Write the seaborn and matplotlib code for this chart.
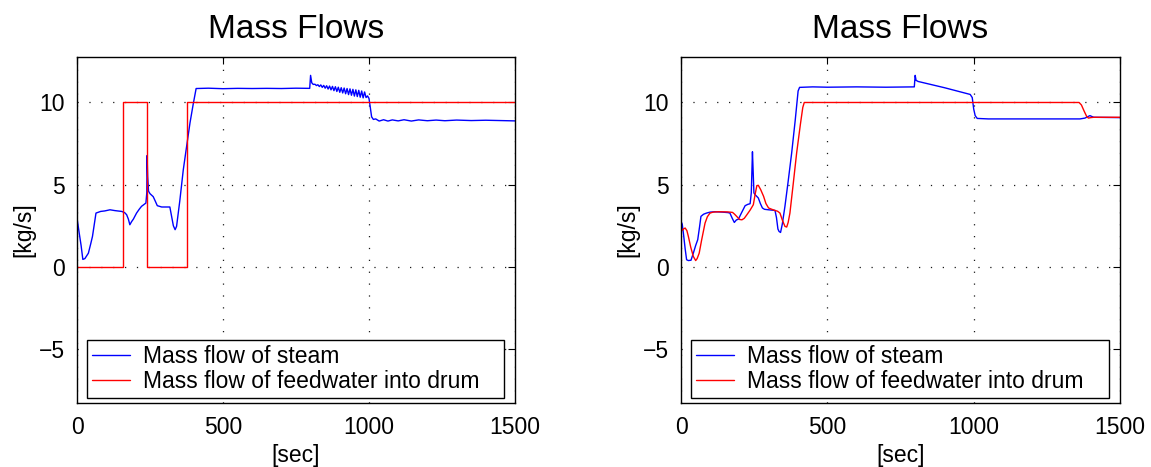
import matplotlib
matplotlib.use("Agg")
import matplotlib.pyplot as plt
import seaborn as sns

# ---- data ----
leftSteamTime = [0, 8, 14, 20, 27, 39, 47, 53, 65, 81, 95, 113, 130, 153, 163, 170, 176, 181, 187, 193,
                 204, 213, 221, 230, 236, 239, 240, 242, 245, 250, 261, 268, 275, 290, 305, 318, 324,
                 330, 336, 341, 352, 364, 376, 387, 398, 408, 450, 500, 550, 600, 650, 700, 750, 797,
                 800, 804, 809, 815, 820, 825, 830, 835, 840, 845, 850, 855, 860, 865, 870, 875, 880,
                 885, 890, 895, 900, 905, 910, 915, 920, 925, 930, 935, 940, 945, 950, 955, 960, 965,
                 970, 975, 980, 985, 990, 995, 1000, 1004, 1009, 1015, 1023, 1035, 1050, 1065, 1080,
                 1100, 1120, 1145, 1170, 1200, 1230, 1260, 1300, 1350, 1400, 1450, 1500]
leftSteamFlow = [2.97, 2.0, 1.3, 0.45, 0.5, 0.83, 1.4, 1.85, 3.27, 3.37, 3.4, 3.47, 3.42, 3.37, 3.3, 3.17,
                 2.9, 2.56, 2.75, 2.9, 3.27, 3.5, 3.68, 3.8, 3.88, 4.5, 6.77, 5.5, 4.6, 4.45, 4.27, 4.0,
                 3.72, 3.64, 3.64, 3.64, 3.07, 2.5, 2.26, 2.46, 4.0, 5.9, 7.4, 8.76, 9.9, 10.85, 10.87,
                 10.84, 10.86, 10.85, 10.86, 10.85, 10.87, 10.86, 11.65, 11.2, 11.1, 11.11, 11.03,
                 11.08, 10.97, 11.07, 10.92, 11.04, 10.87, 11.02, 10.82, 11.0, 10.77, 10.98, 10.72,
                 10.96, 10.67, 10.93, 10.62, 10.9, 10.58, 10.88, 10.53, 10.85, 10.48, 10.83, 10.44,
                 10.8, 10.39, 10.77, 10.36, 10.74, 10.32, 10.7, 10.28, 10.64, 10.3, 10.4, 10.25, 9.77,
                 9.13, 8.97, 9.0, 8.87, 8.95, 8.87, 8.94, 8.88, 8.95, 8.87, 8.94, 8.89, 8.93, 8.89,
                 8.93, 8.9, 8.92, 8.9, 8.88]
leftFeedTime = [0, 157, 157, 239, 239, 378, 378, 1500]
leftFeedFlow = [0, 0, 10, 10, 0, 0, 10, 10]

rightSteamTime = [0, 4, 8, 14, 19, 25, 34, 42, 50, 57, 63, 68, 77, 87, 100, 116, 140, 160, 167, 175,
                  182, 189, 196, 207, 219, 228, 236, 240, 244, 246, 249, 253, 264, 271, 278, 285, 299,
                  310, 321, 326, 331, 335, 340, 346, 355, 366, 378, 390, 400, 405, 450, 500, 600, 700,
                  797, 800, 803, 810, 900, 988, 995, 1000, 1005, 1012, 1050, 1200, 1363, 1380, 1397,
                  1410, 1500]
rightSteamFlow = [2.76, 2.6, 2.05, 1.1, 0.43, 0.38, 0.4, 0.83, 1.3, 1.65, 2.4, 3.07, 3.2, 3.27, 3.33,
                  3.35, 3.33, 3.3, 3.27, 2.95, 2.7, 2.85, 2.9, 3.3, 3.72, 3.8, 3.84, 4.5, 7.0, 6.0, 4.5,
                  4.39, 4.19, 3.85, 3.58, 3.5, 3.47, 3.45, 3.43, 3.0, 2.3, 2.15, 2.09, 2.6, 3.68, 5.2,
                  6.93, 8.9, 10.7, 10.92, 10.95, 10.93, 10.95, 10.93, 10.95, 11.65, 11.35, 11.28, 10.9,
                  10.49, 10.3, 9.6, 9.2, 9.03, 9.0, 9.0, 9.0, 9.05, 9.2, 9.1, 9.08]
rightFeedTime = [0, 8, 14, 20, 25, 33, 42, 50, 55, 62, 70, 82, 90, 99, 110, 128, 160, 176, 183, 190,
                 200, 208, 216, 225, 236, 247, 253, 259, 264, 272, 282, 290, 299, 310, 321, 330, 338,
                 346, 355, 361, 366, 372, 383, 395, 408, 416, 421, 1360, 1368, 1378, 1386, 1392, 1400,
                 1410, 1500]
rightFeedFlow = [2.15, 2.3, 2.36, 2.2, 1.85, 1.2, 0.63, 0.38, 0.5, 0.83, 1.6, 2.66, 3.05, 3.27, 3.33,
                 3.35, 3.34, 3.31, 3.2, 3.07, 2.88, 2.86, 2.95, 3.17, 3.45, 3.78, 4.4, 4.94, 4.96, 4.7,
                 4.29, 3.85, 3.58, 3.5, 3.43, 3.38, 3.27, 2.85, 2.46, 2.42, 2.7, 3.27, 5.0, 6.93, 8.7,
                 9.7, 10.0, 10.0, 9.85, 9.45, 9.15, 9.05, 9.08, 9.1, 9.1]

xTicks = [0, 500, 1000, 1500]
yTicks = [-5, 0, 5, 10]
steamLabel = "Mass flow of steam"
feedLabel = "Mass flow of feedwater into drum"
titleText = "Mass Flows"

sns.set_style("white")
plt.rcParams["font.family"] = ["Liberation Sans", "DejaVu Sans"]
plt.rcParams["text.color"] = "black"
plt.rcParams["axes.labelcolor"] = "black"


def styleAxis(ax):
    ax.set_xlim(0, 1500)
    ax.set_ylim(-8.29, 12.77)
    ax.set_xticks(xTicks)
    ax.set_yticks(yTicks)
    ax.tick_params(direction="in", top=True, right=True, length=5, width=0.8,
                   labelsize=16.5, pad=9, colors="black")
    ax.grid(True, color="0.1", linestyle=(0, (1, 8.5)), linewidth=0.9)
    for spine in ax.spines.values():
        spine.set_color("black")
        spine.set_linewidth(1.0)
    ax.set_title(titleText, fontsize=24, pad=14, color="black")
    ax.set_xlabel("[sec]", fontsize=16.5, labelpad=4)
    ax.set_ylabel("[kg/s]", fontsize=16.5, labelpad=2)
    legendObject = ax.legend(loc="lower left", bbox_to_anchor=(10 / 438, 5 / 346, 417 / 438, 58 / 346),
                             mode="expand", borderaxespad=0, fontsize=16.5, handlelength=1.66,
                             handletextpad=0.57, labelspacing=0.12, borderpad=0.2, fancybox=False,
                             framealpha=1, edgecolor="black")
    legendObject.get_frame().set_linewidth(1.0)


fig = plt.figure(figsize=(11.51, 4.67), dpi=100)
leftAx = fig.add_axes([0.0669, 0.137, 0.3805, 0.741])
rightAx = fig.add_axes([0.5917, 0.137, 0.3814, 0.741])

for ax, steamT, steamF, feedT, feedF in [
    (leftAx, leftSteamTime, leftSteamFlow, leftFeedTime, leftFeedFlow),
    (rightAx, rightSteamTime, rightSteamFlow, rightFeedTime, rightFeedFlow),
]:
    sns.lineplot(x=steamT, y=steamF, ax=ax, color="blue", linewidth=1.0,
                 estimator=None, sort=False, label=steamLabel)
    sns.lineplot(x=feedT, y=feedF, ax=ax, color="red", linewidth=1.0,
                 estimator=None, sort=False, label=feedLabel)
    styleAxis(ax)

fig.savefig("out.png", dpi=100)
